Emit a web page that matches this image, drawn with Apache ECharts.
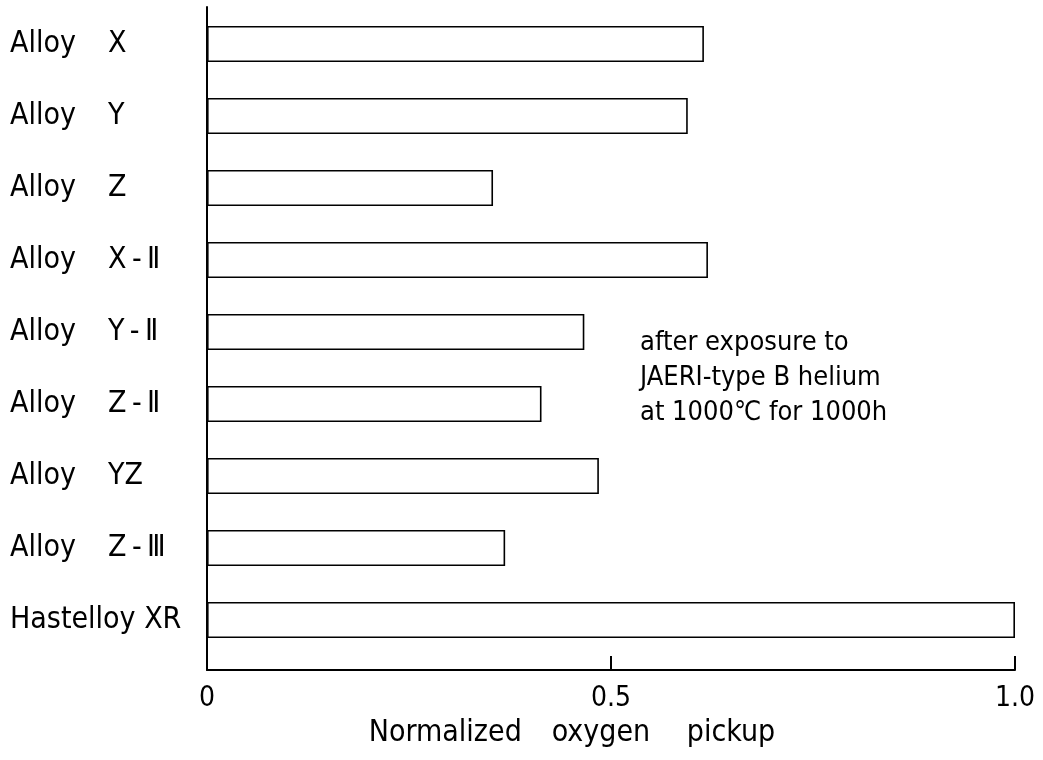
<!DOCTYPE html>
<html>
<head>
<meta charset="utf-8">
<script src="https://cdn.jsdelivr.net/npm/echarts@6/dist/echarts.min.js"></script>
<style>html,body{margin:0;padding:0;background:#fff;}#c{width:1043px;height:760px;}</style>
</head>
<body>
<div id="c"></div>
<script>
const prefixes = ['Alloy', 'Alloy', 'Alloy', 'Alloy', 'Alloy', 'Alloy', 'Alloy', 'Alloy', 'Hastelloy XR'];
const suffixes = ['X', 'Y', 'Z', 'X\u2009-\u2009Ⅱ', 'Y\u2009-\u2009Ⅱ', 'Z\u2009-\u2009Ⅱ', 'YZ', 'Z\u2009-\u2009Ⅲ', ''];
const categories = prefixes.map((p, i) => suffixes[i] ? p + ' ' + suffixes[i] : p);
const values = [0.615, 0.595, 0.354, 0.620, 0.467, 0.414, 0.485, 0.369, 1.0];
const xTicks = [0, 0.5, 1.0];
const xTickLabels = ['0', '0.5', '1.0'];
const note = ['after exposure to', 'JAERI-type B helium', 'at 1000℃ for 1000h'];
const axisWords = ['Normalized', 'oxygen', 'pickup'];

const FONT = '"DejaVu Sans Condensed", "DejaVu Sans", sans-serif';
const chart = echarts.init(document.getElementById('c'), null, {renderer: 'canvas'});

chart.setOption({
  animation: false,
  backgroundColor: '#fff',
  grid: [
    {left: 207, right: 28, top: 8, height: 648},
    {left: 207, right: 28, top: 7, bottom: 90}
  ],
  xAxis: [
    {gridIndex: 0, type: 'value', min: 0, max: 1, show: false},
    {
      gridIndex: 1, type: 'value', min: 0, max: 1, interval: 0.5,
      axisLine: {show: true, lineStyle: {color: '#000', width: 2}},
      axisTick: {show: true, inside: true, length: 14, lineStyle: {color: '#000', width: 2}},
      splitLine: {show: false},
      axisLabel: {
        color: '#000', fontFamily: FONT, fontSize: 28, margin: 15,
        formatter: v => { const i = xTicks.indexOf(v); return i >= 0 ? xTickLabels[i] : ''; }
      },
      name: '{a|' + axisWords[0] + '}{b|' + axisWords[1] + '}{c|' + axisWords[2] + '}',
      nameLocation: 'middle', nameGap: 47,
      nameTextStyle: {
        color: '#000', fontFamily: FONT, fontSize: 30, padding: [0, 78, 0, 0],
        rich: {
          a: {width: 183, align: 'left', color: '#000', fontFamily: FONT, fontSize: 30},
          b: {width: 135, align: 'left', color: '#000', fontFamily: FONT, fontSize: 30},
          c: {align: 'left', color: '#000', fontFamily: FONT, fontSize: 30}
        }
      }
    }
  ],
  yAxis: [
    {
      gridIndex: 0, type: 'category', data: categories, inverse: true,
      axisLine: {show: false}, axisTick: {show: false}, splitLine: {show: false},
      axisLabel: {
        align: 'left', margin: 197, color: '#000', fontFamily: FONT, fontSize: 30,
        formatter: (v, i) => suffixes[i] ? '{a|' + prefixes[i] + '}{b|' + suffixes[i] + '}' : '{a|' + prefixes[i] + '}',
        rich: {
          a: {width: 98, align: 'left', color: '#000', fontFamily: FONT, fontSize: 30},
          b: {align: 'left', color: '#000', fontFamily: FONT, fontSize: 30}
        }
      }
    },
    {
      gridIndex: 1, type: 'value', min: 0, max: 1,
      axisLine: {show: true, lineStyle: {color: '#000', width: 2}},
      axisTick: {show: false}, axisLabel: {show: false}, splitLine: {show: false}
    }
  ],
  series: [{
    type: 'bar', xAxisIndex: 0, yAxisIndex: 0,
    data: values, barWidth: 36,
    itemStyle: {color: '#fff', borderColor: '#000', borderWidth: 1.6},
    silent: true
  }],
  graphic: note.map((t, i) => ({
    type: 'text', left: 640, top: 329 + i * 35,
    style: {text: t, fill: '#000', font: '27px ' + FONT}
  }))
});
</script>
</body>
</html>
